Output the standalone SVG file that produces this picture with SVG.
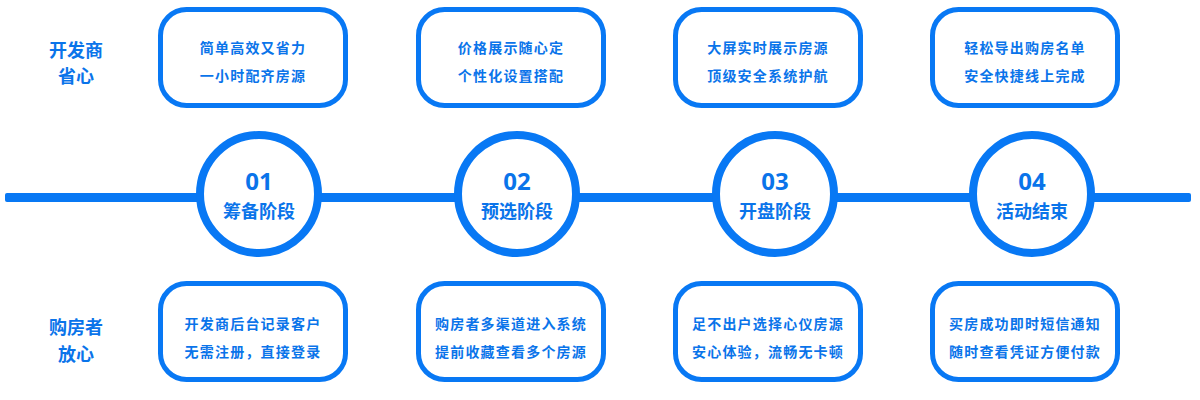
<svg xmlns="http://www.w3.org/2000/svg" width="1200" height="400" viewBox="0 0 1200 400">
<style>
.box{fill:#fff;stroke:#0878f4;stroke-width:5}
.circ{fill:#fff;stroke:#0878f4;stroke-width:8}
.bt{font-family:"Noto Sans CJK SC","Noto Sans",sans-serif;font-size:14px;font-weight:bold;fill:#0a74ea;text-anchor:middle;letter-spacing:1.2px}
.lt{font-family:"Noto Sans CJK SC","Noto Sans",sans-serif;font-size:18px;font-weight:bold;fill:#0a74ea;text-anchor:middle}
.num{font-family:"Noto Sans","Noto Sans CJK SC",sans-serif;font-size:24px;font-weight:bold;fill:#0a74ea;text-anchor:middle}
.ct{font-family:"Noto Sans CJK SC","Noto Sans",sans-serif;font-size:18px;font-weight:bold;fill:#0a74ea;text-anchor:middle}
</style>
<rect width="1200" height="400" fill="#fff"/>
<g id="connectors">
<rect x="5" y="193" width="1186" height="9" rx="2" fill="#0878f4"/>
</g>
<g id="label-dev">
<text class="lt" x="76" y="57">开发商</text>
<text class="lt" x="76" y="83">省心</text>
</g>
<g id="label-buyer">
<text class="lt" x="76" y="334">购房者</text>
<text class="lt" x="76" y="361">放心</text>
</g>
<g id="top1"><rect class="box" x="160.5" y="9.5" width="185" height="96" rx="26"/>
<text class="bt" x="253" y="53">简单高效又省力</text><text class="bt" x="253" y="81">一小时配齐房源</text></g>
<g id="top2"><rect class="box" x="418.5" y="9.5" width="185" height="96" rx="26"/>
<text class="bt" x="511" y="53">价格展示随心定</text><text class="bt" x="511" y="81">个性化设置搭配</text></g>
<g id="top3"><rect class="box" x="675.5" y="9.5" width="185" height="96" rx="26"/>
<text class="bt" x="768" y="53">大屏实时展示房源</text><text class="bt" x="768" y="81">顶级安全系统护航</text></g>
<g id="top4"><rect class="box" x="932.5" y="9.5" width="185" height="96" rx="26"/>
<text class="bt" x="1025" y="53">轻松导出购房名单</text><text class="bt" x="1025" y="81">安全快捷线上完成</text></g>
<g id="stage1"><circle class="circ" cx="259" cy="194" r="59"/>
<text class="num" x="259" y="190">01</text><text class="ct" x="259" y="218">筹备阶段</text></g>
<g id="stage2"><circle class="circ" cx="517" cy="194" r="59"/>
<text class="num" x="517" y="190">02</text><text class="ct" x="517" y="218">预选阶段</text></g>
<g id="stage3"><circle class="circ" cx="775" cy="194" r="59"/>
<text class="num" x="775" y="190">03</text><text class="ct" x="775" y="218">开盘阶段</text></g>
<g id="stage4"><circle class="circ" cx="1032" cy="194" r="59"/>
<text class="num" x="1032" y="190">04</text><text class="ct" x="1032" y="218">活动结束</text></g>
<g id="bot1"><rect class="box" x="160.5" y="283.5" width="185" height="96" rx="26"/>
<text class="bt" x="253" y="329">开发商后台记录客户</text><text class="bt" x="253" y="357">无需注册，直接登录</text></g>
<g id="bot2"><rect class="box" x="418.5" y="283.5" width="185" height="96" rx="26"/>
<text class="bt" x="511" y="329">购房者多渠道进入系统</text><text class="bt" x="511" y="357">提前收藏查看多个房源</text></g>
<g id="bot3"><rect class="box" x="675.5" y="283.5" width="185" height="96" rx="26"/>
<text class="bt" x="768" y="329">足不出户选择心仪房源</text><text class="bt" x="768" y="357">安心体验，流畅无卡顿</text></g>
<g id="bot4"><rect class="box" x="932.5" y="283.5" width="185" height="96" rx="26"/>
<text class="bt" x="1025" y="329">买房成功即时短信通知</text><text class="bt" x="1025" y="357">随时查看凭证方便付款</text></g>
</svg>
